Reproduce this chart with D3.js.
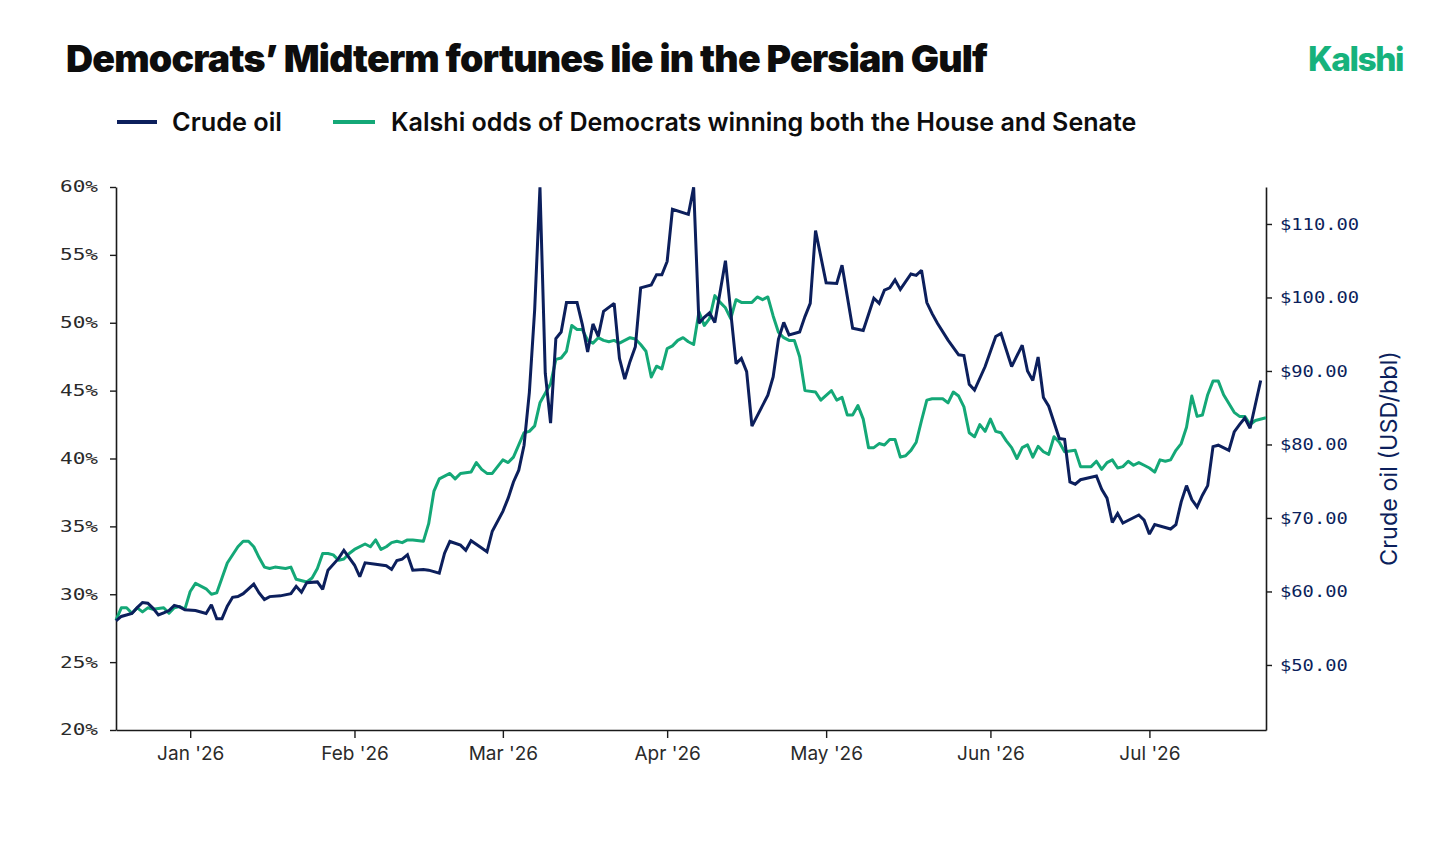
<!DOCTYPE html>
<html>
<head>
<meta charset="utf-8">
<script src="https://cdn.jsdelivr.net/npm/d3@7"></script>
<style>
  html, body { margin: 0; padding: 0; background: #fff; }
  svg { display: block; }
</style>
</head>
<body>
<svg id="chart" width="1456" height="849"></svg>
<script>
// --- data ---
const kalshiDates = [
  "2025-12-18","2025-12-19","2025-12-20","2025-12-21","2025-12-22","2025-12-23","2025-12-24","2025-12-25","2025-12-27","2025-12-28","2025-12-29","2025-12-30","2025-12-31",
  "2026-01-01","2026-01-02","2026-01-04","2026-01-05","2026-01-06","2026-01-07","2026-01-08","2026-01-10","2026-01-11","2026-01-12","2026-01-13","2026-01-14","2026-01-15","2026-01-16","2026-01-17","2026-01-19","2026-01-20","2026-01-21","2026-01-23","2026-01-24","2026-01-25","2026-01-26","2026-01-27","2026-01-28","2026-01-29","2026-01-30","2026-01-31",
  "2026-02-01","2026-02-03","2026-02-04","2026-02-05","2026-02-06","2026-02-07","2026-02-08","2026-02-09","2026-02-10","2026-02-11","2026-02-12","2026-02-14","2026-02-15","2026-02-16","2026-02-17","2026-02-19","2026-02-20","2026-02-21","2026-02-23","2026-02-24","2026-02-25","2026-02-26","2026-02-27",
  "2026-03-01","2026-03-02","2026-03-03","2026-03-05","2026-03-06","2026-03-07","2026-03-08","2026-03-10","2026-03-11","2026-03-12","2026-03-13","2026-03-14","2026-03-15","2026-03-16","2026-03-17","2026-03-18","2026-03-19","2026-03-20","2026-03-21","2026-03-22","2026-03-23","2026-03-25","2026-03-26","2026-03-27","2026-03-28","2026-03-29","2026-03-30","2026-03-31",
  "2026-04-01","2026-04-02","2026-04-03","2026-04-04","2026-04-05","2026-04-06","2026-04-07","2026-04-08","2026-04-09","2026-04-10","2026-04-11","2026-04-12","2026-04-13","2026-04-14","2026-04-15","2026-04-17","2026-04-18","2026-04-19","2026-04-20","2026-04-21","2026-04-22","2026-04-23","2026-04-24","2026-04-25","2026-04-26","2026-04-27","2026-04-29","2026-04-30",
  "2026-05-02","2026-05-03","2026-05-04","2026-05-05","2026-05-06","2026-05-07","2026-05-08","2026-05-09","2026-05-10","2026-05-11","2026-05-12","2026-05-13","2026-05-14","2026-05-15","2026-05-16","2026-05-17","2026-05-18","2026-05-19","2026-05-20","2026-05-21","2026-05-22","2026-05-23","2026-05-24","2026-05-25","2026-05-26","2026-05-27","2026-05-28","2026-05-29","2026-05-30","2026-05-31",
  "2026-06-01","2026-06-02","2026-06-03","2026-06-04","2026-06-05","2026-06-06","2026-06-07","2026-06-08","2026-06-09","2026-06-10","2026-06-11","2026-06-12","2026-06-13","2026-06-14","2026-06-15","2026-06-17","2026-06-18","2026-06-19","2026-06-20","2026-06-21","2026-06-22","2026-06-23","2026-06-24","2026-06-25","2026-06-26","2026-06-27","2026-06-28","2026-06-29","2026-06-30",
  "2026-07-01","2026-07-02","2026-07-03","2026-07-04","2026-07-05","2026-07-06","2026-07-07","2026-07-08","2026-07-09","2026-07-10","2026-07-11","2026-07-12","2026-07-13","2026-07-14","2026-07-15","2026-07-17","2026-07-18","2026-07-19","2026-07-20","2026-07-21","2026-07-23"
];
const kalshiOdds = [
  28.1,29.0,29.0,28.6,29.0,28.7,29.0,28.9,29.0,28.6,29.0,29.1,28.9,
  30.2,30.8,30.4,30.0,30.1,31.2,32.3,33.5,33.9,33.9,33.5,32.7,32.0,31.9,32.0,31.9,32.0,31.1,30.9,31.2,31.9,33.0,33.0,32.9,32.5,32.6,33.0,
  33.3,33.7,33.5,34.0,33.3,33.5,33.8,33.9,33.8,34.0,34.0,33.9,35.2,37.6,38.5,38.9,38.5,38.9,39.0,39.7,39.2,38.9,38.9,
  39.9,39.7,40.1,41.9,42.0,42.4,44.1,45.5,47.3,47.4,47.9,49.8,49.5,49.5,48.7,48.5,48.9,48.7,48.6,48.7,48.5,48.9,48.8,48.4,47.9,46.0,46.8,46.6,
  48.1,48.3,48.7,48.9,48.6,48.4,50.8,49.8,50.3,52.0,51.5,51.1,50.3,51.7,51.5,51.5,51.9,51.7,51.9,50.5,49.3,48.9,48.7,48.7,47.5,45.0,44.9,44.3,
  45.0,44.3,44.5,43.2,43.2,43.9,42.9,40.8,40.8,41.1,41.0,41.4,41.4,40.1,40.2,40.6,41.2,42.8,44.3,44.4,44.4,44.4,44.1,44.9,44.6,43.8,41.9,41.6,42.5,42.0,
  42.9,42.0,41.9,41.3,40.8,40.0,40.8,41.0,40.1,40.9,40.5,40.3,41.6,41.2,40.5,40.6,39.4,39.4,39.4,39.8,39.2,39.7,39.9,39.3,39.4,39.8,39.5,39.7,39.5,
  39.3,39.0,39.9,39.8,39.9,40.6,41.1,42.3,44.6,43.1,43.2,44.7,45.7,45.7,44.7,43.4,43.1,43.1,42.5,42.8,43.0
];

const oilDates = [
  "2025-12-18","2025-12-19","2025-12-21","2025-12-22","2025-12-23","2025-12-24","2025-12-25","2025-12-26","2025-12-27","2025-12-28","2025-12-29","2025-12-30","2025-12-31",
  "2026-01-02","2026-01-04","2026-01-05","2026-01-06","2026-01-07","2026-01-08","2026-01-09","2026-01-10","2026-01-11","2026-01-13","2026-01-14","2026-01-15","2026-01-16","2026-01-18","2026-01-20","2026-01-21","2026-01-22","2026-01-23","2026-01-25","2026-01-26","2026-01-27","2026-01-29","2026-01-30",
  "2026-02-01","2026-02-02","2026-02-03","2026-02-05","2026-02-07","2026-02-08","2026-02-09","2026-02-10","2026-02-11","2026-02-12","2026-02-14","2026-02-15","2026-02-17","2026-02-18","2026-02-19","2026-02-21","2026-02-22","2026-02-23","2026-02-25","2026-02-26","2026-02-27",
  "2026-03-01","2026-03-02","2026-03-03","2026-03-04","2026-03-05","2026-03-06","2026-03-07","2026-03-08","2026-03-09","2026-03-10","2026-03-11","2026-03-12","2026-03-13","2026-03-15","2026-03-16","2026-03-17","2026-03-18","2026-03-19","2026-03-20","2026-03-22","2026-03-23","2026-03-24","2026-03-25","2026-03-26","2026-03-27","2026-03-29","2026-03-30","2026-03-31",
  "2026-04-01","2026-04-02","2026-04-05","2026-04-06","2026-04-07","2026-04-08","2026-04-09","2026-04-10","2026-04-12","2026-04-14","2026-04-15","2026-04-16","2026-04-17","2026-04-20","2026-04-21","2026-04-22","2026-04-23","2026-04-24","2026-04-26","2026-04-27","2026-04-28","2026-04-29",
  "2026-05-01","2026-05-03","2026-05-04","2026-05-06","2026-05-08","2026-05-10","2026-05-11","2026-05-12","2026-05-13","2026-05-14","2026-05-15","2026-05-17","2026-05-18","2026-05-19","2026-05-20","2026-05-21","2026-05-22","2026-05-24","2026-05-26","2026-05-27","2026-05-28","2026-05-29","2026-05-31",
  "2026-06-02","2026-06-03","2026-06-05","2026-06-07","2026-06-08","2026-06-09","2026-06-10","2026-06-11","2026-06-12","2026-06-14","2026-06-15","2026-06-16","2026-06-17","2026-06-18","2026-06-21","2026-06-22","2026-06-23","2026-06-24","2026-06-25","2026-06-26","2026-06-29","2026-06-30",
  "2026-07-01","2026-07-02","2026-07-05","2026-07-06","2026-07-07","2026-07-08","2026-07-09","2026-07-10","2026-07-11","2026-07-12","2026-07-13","2026-07-14","2026-07-16","2026-07-17","2026-07-18","2026-07-19","2026-07-20","2026-07-22"
];
const oilPrice = [
  56.0,56.6,57.0,57.8,58.5,58.4,57.7,56.8,57.1,57.4,58.1,57.9,57.5,
  57.4,57.0,58.2,56.3,56.3,58.0,59.2,59.3,59.7,61.0,59.8,58.9,59.3,59.4,59.7,60.7,59.9,61.2,61.3,60.3,62.9,64.5,65.6,
  63.6,62.0,63.9,63.7,63.5,63.0,64.2,64.4,65.0,62.9,63.0,62.9,62.5,65.2,66.8,66.3,65.6,66.9,65.9,65.4,68.2,
  70.9,72.7,74.9,76.5,79.9,87.1,98.3,115.0,89.7,82.9,94.4,95.3,99.3,99.3,96.3,92.6,96.4,94.7,98.1,99.2,91.7,88.9,91.3,93.3,101.3,101.7,103.1,103.1,
  104.9,112.0,111.3,115.0,96.5,97.3,97.9,96.6,105.0,91.0,91.7,89.9,82.5,86.7,89.2,94.3,96.6,94.9,95.3,97.4,99.2,109.1,
  102.0,101.9,104.4,95.8,95.5,99.9,99.2,101.0,101.3,102.4,101.1,103.2,103.0,103.7,99.3,97.8,96.5,94.2,92.2,92.1,88.2,87.4,90.6,
  94.7,95.1,90.6,93.5,90.0,88.7,91.9,86.4,85.2,80.8,80.7,74.9,74.6,75.2,75.7,73.9,72.7,69.4,70.6,69.3,70.4,69.7,
  67.8,69.1,68.5,69.1,72.2,74.4,72.5,71.5,73.1,74.4,79.7,79.9,79.2,81.7,82.7,83.6,82.2,88.7
];

const monthTicks = ["2026-01-01","2026-02-01","2026-03-01","2026-04-01","2026-05-01","2026-06-01","2026-07-01"];
const oddsTicks = [20, 25, 30, 35, 40, 45, 50, 55, 60];
const oilTicks = [50, 60, 70, 80, 90, 100, 110];

const NAVY = "#0c1f5c";
const GREEN = "#14a877";
const INK = "#0d0d0d";

const parse = d3.timeParse("%Y-%m-%d");
const kalshi = kalshiDates.map((d, i) => ({ date: parse(d), v: kalshiOdds[i] }));
const oil = oilDates.map((d, i) => ({ date: parse(d), v: oilPrice[i] }));

const svg = d3.select("#chart");
const width = 1456, height = 849;
const margin = { top: 187, right: 190, bottom: 119, left: 116 };

svg.append("rect").attr("width", width).attr("height", height).attr("fill", "#fff");

// scale text to a target width
function fitWidth(sel, w) {
  const cur = sel.node().getComputedTextLength();
  const fs = parseFloat(sel.attr("font-size"));
  sel.attr("font-size", fs * w / cur);
}

// --- scales ---
const x = d3.scaleTime()
  .domain(d3.extent(kalshi, d => d.date))
  .range([margin.left, width - margin.right]);

const yOdds = d3.scaleLinear()
  .domain([20, 60])
  .range([height - margin.bottom, margin.top]);

const yOil = d3.scaleLinear()
  .domain([41.15, 115.03])
  .range([height - margin.bottom, margin.top]);

// --- title, logo ---
const title = svg.append("text")
  .attr("x", 66).attr("y", 72)
  .attr("font-family", "Inter, 'Noto Sans', sans-serif")
  .attr("font-weight", 900)
  .attr("font-size", 38)
  .attr("fill", INK)
  .attr("letter-spacing", -0.8)
  .text("Democrats’ Midterm fortunes lie in the Persian Gulf");
fitWidth(title, 922);

const logo = svg.append("text")
  .attr("x", 1308).attr("y", 71)
  .attr("font-family", "Inter, sans-serif")
  .attr("font-weight", 800)
  .attr("font-size", 38)
  .attr("letter-spacing", -1.5)
  .attr("fill", "#17b27c")
  .text("Kalshi");
fitWidth(logo, 96);

// --- legend ---
const legend = [
  { label: "Crude oil", color: NAVY, x0: 117, x1: 157, tx: 172, tw: 110 },
  { label: "Kalshi odds of Democrats winning both the House and Senate", color: GREEN, x0: 333, x1: 375, tx: 391, tw: 746 }
];
legend.forEach(l => {
  svg.append("line")
    .attr("x1", l.x0).attr("x2", l.x1).attr("y1", 122).attr("y2", 122)
    .attr("stroke", l.color).attr("stroke-width", 4);
  const t = svg.append("text")
    .attr("x", l.tx).attr("y", 130.5)
    .attr("font-family", "Inter, sans-serif")
    .attr("font-weight", 600)
    .attr("font-size", 24)
    .attr("fill", INK)
    .text(l.label);
  fitWidth(t, l.tw);
});

// --- axes ---
const axisColor = "#1a1a1a";

const gLeft = svg.append("g")
  .attr("transform", `translate(${margin.left},0)`)
  .call(d3.axisLeft(yOdds).tickValues(oddsTicks).tickFormat(d => d + "%").tickSize(6).tickSizeOuter(0).tickPadding(12));
gLeft.selectAll("text")
  .attr("font-family", "'DejaVu Sans Mono', monospace")
  .attr("font-size", 15.5)
  .attr("fill", "#2a2a2a")
  .attr("textLength", 38)
  .attr("lengthAdjust", "spacingAndGlyphs");

const gRight = svg.append("g")
  .attr("transform", `translate(${width - margin.right},0)`)
  .call(d3.axisRight(yOil).tickValues(oilTicks).tickFormat(d => "$" + d.toFixed(2)).tickSize(6).tickSizeOuter(0).tickPadding(8));
gRight.selectAll("text")
  .attr("font-family", "'DejaVu Sans Mono', monospace")
  .attr("font-size", 16.5)
  .attr("fill", NAVY)
  .attr("textLength", function() { return this.textContent.length * 11.3; })
  .attr("lengthAdjust", "spacingAndGlyphs");

const gBottom = svg.append("g")
  .attr("transform", `translate(0,${height - margin.bottom})`)
  .call(d3.axisBottom(x).tickValues(monthTicks.map(parse)).tickFormat(d3.timeFormat("%b '%y")).tickSize(8).tickSizeOuter(0).tickPadding(9));
gBottom.selectAll("text")
  .attr("font-family", "Inter, sans-serif")
  .attr("font-size", 19)
  .attr("fill", "#2a2a2a");

[gLeft, gRight, gBottom].forEach(g => {
  g.select(".domain").attr("stroke", axisColor).attr("stroke-width", 1.6);
  g.selectAll(".tick line").attr("stroke", axisColor).attr("stroke-width", 1.4);
});

// right axis title
const yTitle = svg.append("text")
  .attr("transform", `translate(1397,${(margin.top + height - margin.bottom) / 2}) rotate(-90)`)
  .attr("text-anchor", "middle")
  .attr("font-family", "Inter, sans-serif")
  .attr("font-size", 22)
  .attr("fill", NAVY)
  .text("Crude oil (USD/bbl)");
fitWidth(yTitle, 215);

// --- lines ---
const oddsLine = d3.line().x(d => x(d.date)).y(d => yOdds(d.v));
const oilLine = d3.line().x(d => x(d.date)).y(d => yOil(d.v));

svg.append("path")
  .datum(kalshi)
  .attr("fill", "none")
  .attr("stroke", GREEN)
  .attr("stroke-width", 3)
  .attr("stroke-linejoin", "round")
  .attr("d", oddsLine);

svg.append("path")
  .datum(oil)
  .attr("fill", "none")
  .attr("stroke", NAVY)
  .attr("stroke-width", 3)
  .attr("stroke-linejoin", "miter")
  .attr("stroke-miterlimit", 2)
  .attr("d", oilLine);
</script>
</body>
</html>
